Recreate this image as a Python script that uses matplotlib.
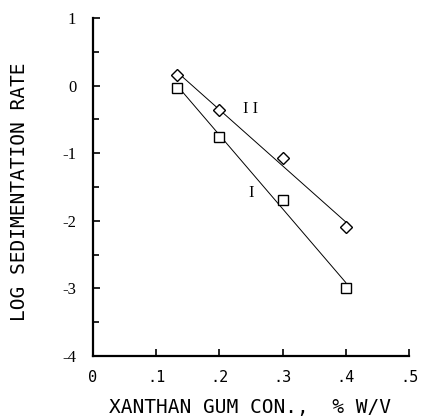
import numpy as np
import matplotlib
matplotlib.use("Agg")
import matplotlib.pyplot as plt
from matplotlib.ticker import MultipleLocator

conc = [0.133, 0.20, 0.30, 0.40]
series_I = [-0.03, -0.755, -1.69, -2.99]
series_II = [0.16, -0.36, -1.07, -2.09]
xticks = [0, 0.1, 0.2, 0.3, 0.4, 0.5]
xticklabels = ["0", ".1", ".2", ".3", ".4", ".5"]
yticks = [1, 0, -1, -2, -3, -4]
yticklabels = ["1", "0", "-1", "-2", "-3", "-4"]

fig = plt.figure(figsize=(4.22, 4.17), dpi=100)
ax = fig.add_axes([93/422, 1-356/417, (409-93)/422, (356-18)/417])

for y, marker, ms in [(series_I, "s", 7), (series_II, "D", 6.5)]:
    x = np.array(conc)
    k, b = np.polyfit(x, y, 1)
    xs = np.array([x[0], x[-1]])
    ax.plot(xs, k*xs + b, color="black", lw=0.7, zorder=2)
    ax.plot(x, y, linestyle="none", marker=marker, ms=ms, mfc="white",
            mec="black", mew=1.0, zorder=3)

ax.text(0.251, -1.59, "I", fontsize=12, family="Liberation Serif", ha="center", va="center")
ax.text(0.25, -0.35, "I I", fontsize=12, family="Liberation Serif", ha="center", va="center")

ax.set_xlim(0, 0.5)
ax.set_ylim(-4, 1)
for s in ["top", "right"]:
    ax.spines[s].set_visible(False)
for s in ["left", "bottom"]:
    ax.spines[s].set_linewidth(1.6)

ax.set_xticks(xticks)
ax.set_xticklabels(xticklabels, family="DejaVu Sans Mono", fontsize=11)
ax.set_yticks(yticks)
ax.set_yticklabels(yticklabels, family="Liberation Serif", fontsize=12)
ax.yaxis.set_minor_locator(MultipleLocator(0.5))
ax.tick_params(axis="both", which="major", direction="in", length=5, width=1.2, pad=12)
ax.tick_params(axis="x", which="major", pad=10)
ax.tick_params(axis="y", which="minor", direction="in", length=4, width=1.2)

ax.set_xlabel("XANTHAN GUM CON.,  % W/V", family="DejaVu Sans Mono", fontsize=14, va="center")
ax.xaxis.set_label_coords((250 - 93) / 316, (356 - 407) / 338)
ax.set_ylabel("LOG SEDIMENTATION RATE", family="DejaVu Sans Mono", fontsize=14, va="center")
ax.yaxis.set_label_coords((20 - 93) / 316, (356 - 192) / 338)

fig.savefig("out.png", dpi=100)
